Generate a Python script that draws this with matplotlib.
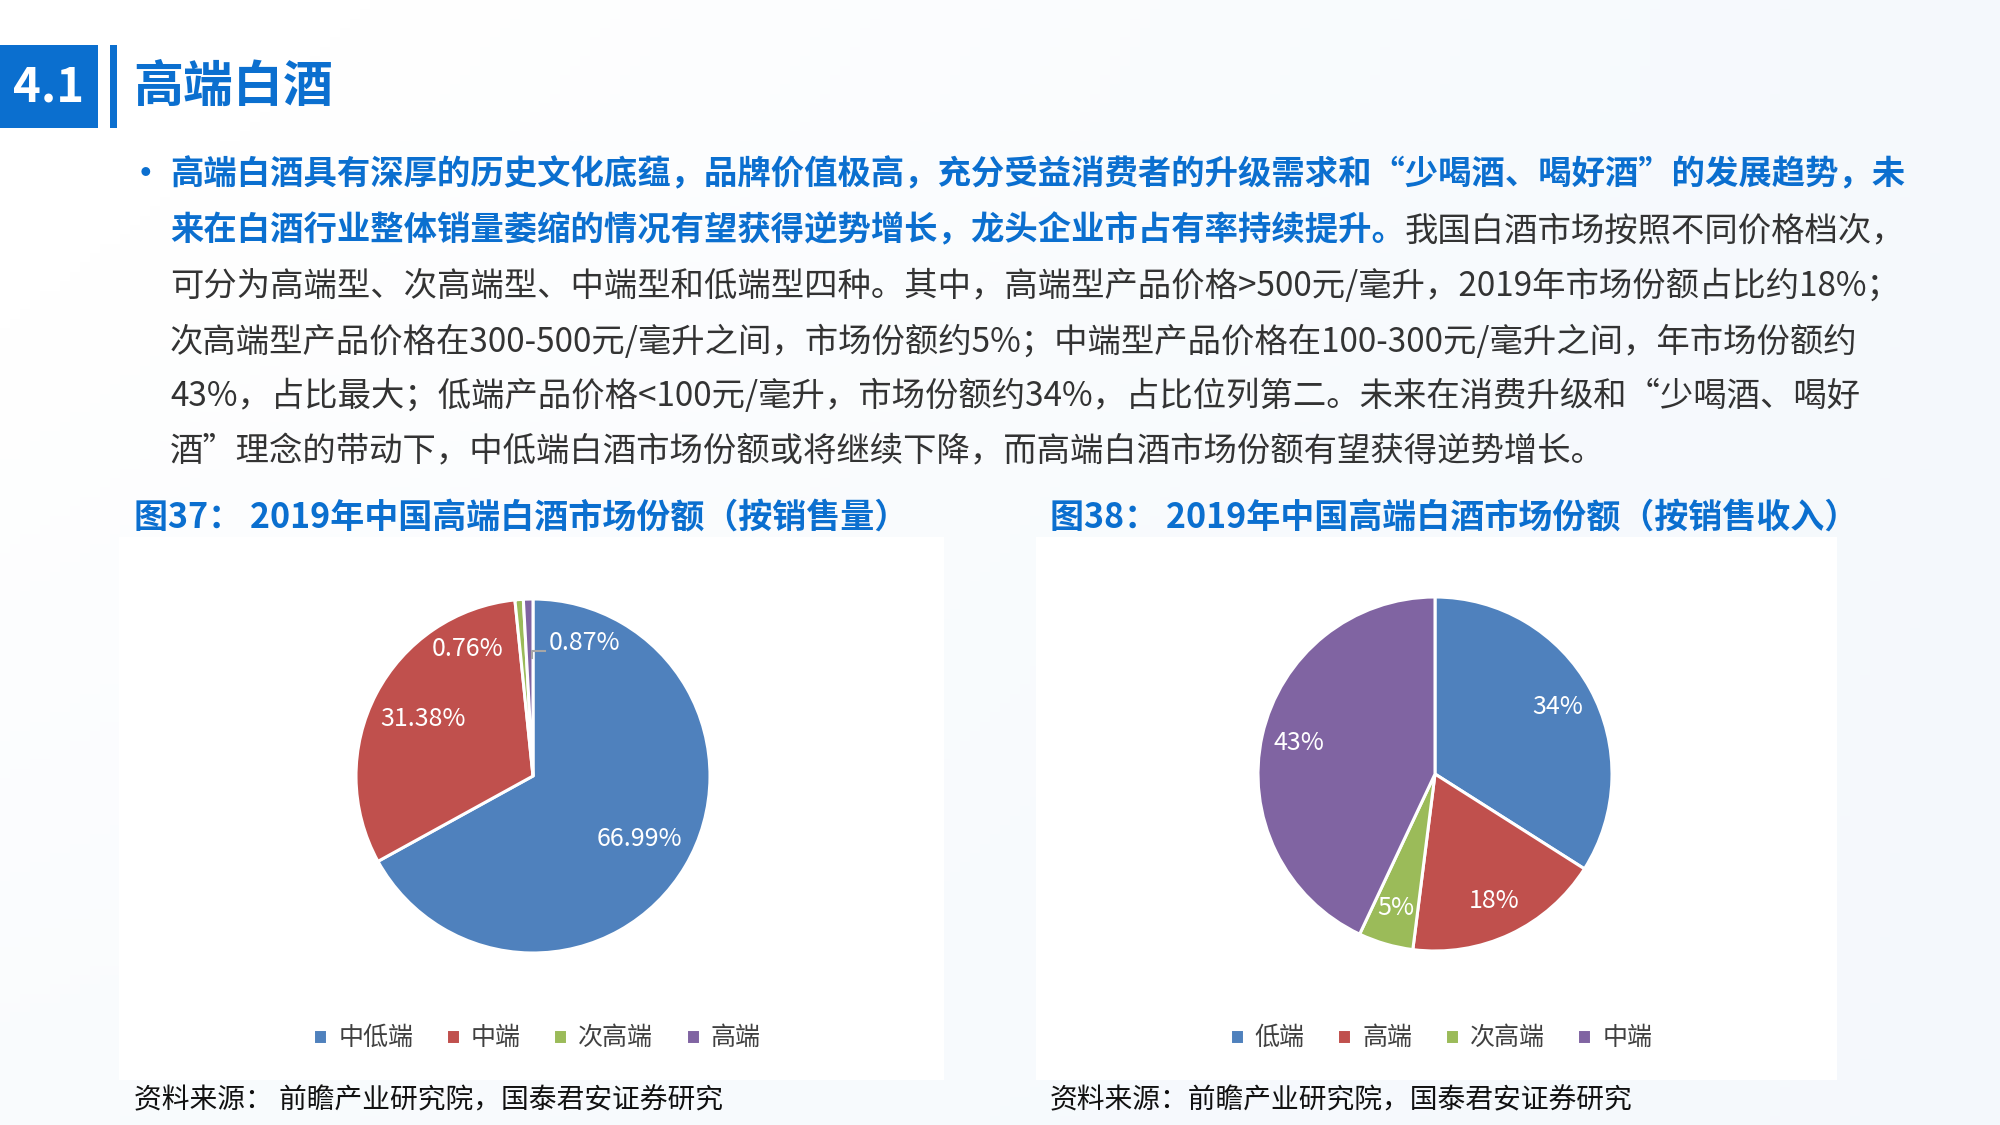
import numpy as np
import matplotlib
matplotlib.use('Agg')
import matplotlib.pyplot as plt
from matplotlib.patches import Rectangle


plt.rcParams['font.family'] = ['Noto Sans CJK SC', 'DejaVu Sans']

# chart data
vol_labels = ['中低端', '中端', '次高端', '高端']
vol_share = [66.99, 31.38, 0.76, 0.87]

rev_labels = ['低端', '高端', '次高端', '中端']
rev_share = [34, 18, 5, 43]

colors = ['#4F81BD', '#C0504D', '#9BBB59', '#8064A2']

section_no = '4.1'
section_title = '高端白酒'
fig37_title = '图37： 2019年中国高端白酒市场份额（按销售量）'
fig38_title = '图38： 2019年中国高端白酒市场份额（按销售收入）'
source_left = '资料来源： 前瞻产业研究院，国泰君安证券研究'
source_right = '资料来源：前瞻产业研究院，国泰君安证券研究'

body_bold_1 = '高端白酒具有深厚的历史文化底蕴，品牌价值极高，充分受益消费者的升级需求和“少喝酒、喝好酒”的发展趋势，未'
body_bold_2 = '来在白酒行业整体销量萎缩的情况有望获得逆势增长，龙头企业市占有率持续提升。'
body_rest_2 = '我国白酒市场按照不同价格档次，'
body_lines = [
    '可分为高端型、次高端型、中端型和低端型四种。其中，高端型产品价格>500元/毫升，2019年市场份额占比约18%；',
    '次高端型产品价格在300-500元/毫升之间，市场份额约5%；中端型产品价格在100-300元/毫升之间，年市场份额约',
    '43%，占比最大；低端产品价格<100元/毫升，市场份额约34%，占比位列第二。未来在消费升级和“少喝酒、喝好',
    '酒”理念的带动下，中低端白酒市场份额或将继续下降，而高端白酒市场份额有望获得逆势增长。',
]

BLUE = '#0B6FCF'
DARK = '#333333'
W, H = 2000, 1125


def fx(px):
	return px / W


def fy(py):
	return 1 - py / H


def main():
	fig = plt.figure(figsize=(20, 11.25), dpi=100)

	# faint slide background
	bg = fig.add_axes([0, 0, 1, 1], zorder=-10)
	xx, yy = np.meshgrid(np.linspace(0, 1, 200), np.linspace(0, 1, 120))
	tint = np.clip(0.55 * xx + 0.35 * yy * (1 - xx) - 0.1, 0, 1)
	base = np.array([1.0, 1.0, 1.0])
	blue = np.array([0.91, 0.945, 0.98])
	img = base[None, None, :] * (1 - tint[..., None]) + blue[None, None, :] * tint[..., None]
	bg.imshow(img, extent=[0, 1, 0, 1], aspect='auto', origin='upper')
	bg.set_xlim(0, 1)
	bg.set_ylim(0, 1)
	bg.axis('off')

	# white chart panels
	for x0, x1 in [(119, 944), (1036, 1837)]:
		bg.add_patch(Rectangle((fx(x0), fy(1080)), fx(x1 - x0), (1080 - 537) / H,
		                       facecolor='white', edgecolor='none', zorder=2))

	# section header
	bg.add_patch(Rectangle((0, fy(128)), fx(98), 83 / H, facecolor=BLUE, edgecolor='none', zorder=3))
	bg.add_patch(Rectangle((fx(110), fy(128)), fx(7), 83 / H, facecolor=BLUE, edgecolor='none', zorder=3))
	fig.text(fx(49), fy(87), section_no, color='white', fontsize=34, fontweight='bold',
	         ha='center', va='center')
	fig.text(fx(133), fy(87), section_title, color=BLUE, fontsize=36, fontweight='bold',
	         ha='left', va='center')

	# body paragraph
	fs = 24
	line_y = [175, 231, 286, 342, 397, 452]
	fig.text(fx(145), fy(line_y[0]), '•', color=BLUE, fontsize=30, ha='center', va='center')
	fig.text(fx(170), fy(line_y[0]), body_bold_1, color=BLUE, fontsize=fs, fontweight='bold',
	         ha='left', va='center')
	t2 = fig.text(fx(170), fy(line_y[1]), body_bold_2, color=BLUE, fontsize=fs, fontweight='bold',
	              ha='left', va='center')
	r = fig.canvas.get_renderer()
	bb = t2.get_window_extent(renderer=r)
	fig.text(bb.x1 / fig.bbox.width, fy(line_y[1]), body_rest_2, color=DARK, fontsize=fs,
	         ha='left', va='center')
	for s, y in zip(body_lines, line_y[2:]):
		fig.text(fx(170), fy(y), s, color=DARK, fontsize=fs, ha='left', va='center')

	# figure titles and sources
	fig.text(fx(134), fy(517), fig37_title, color=BLUE, fontsize=24.5, fontweight='bold',
	         ha='left', va='center')
	fig.text(fx(1050), fy(517), fig38_title, color=BLUE, fontsize=24.5, fontweight='bold',
	         ha='left', va='center')
	fig.text(fx(134), fy(1100), source_left, color='#111111', fontsize=20, ha='left', va='center')
	fig.text(fx(1050), fy(1100), source_right, color='#111111', fontsize=20, ha='left', va='center')

	wedge_kw = dict(edgecolor='white', linewidth=2.2)
	txt_kw = dict(color='white', fontsize=18)
	leg_kw = dict(loc='center', ncol=4, frameon=False, fontsize=18, handlelength=0.55,
	              handleheight=0.55, handletextpad=0.45, columnspacing=1.3, labelcolor='#404040')

	# pie 1 - by volume
	cx, cy, rad = 533, 776, 177
	ax1 = fig.add_axes([fx(cx - rad), fy(cy + rad), fx(2 * rad), 2 * rad / H], zorder=5)
	wedges1, texts1, auto1 = ax1.pie(vol_share, colors=colors, startangle=90, counterclock=False,
	                                 radius=1, autopct='%.2f%%', pctdistance=0.70,
	                                 wedgeprops=wedge_kw, textprops=txt_kw)
	# small slices: labels placed by hand around the top
	auto1[2].set_position((-0.37, 0.72))
	auto1[3].set_position((0.09, 0.75))
	auto1[3].set_ha('left')
	ax1.plot([-0.005, -0.005, 0.07], [0.665, 0.705, 0.705], color='#A6A6A6', lw=1.5, zorder=6)
	ax1.set_xlim(-1, 1)
	ax1.set_ylim(-1, 1)
	ax1.set_aspect('equal')
	ax1.axis('off')
	fig.legend(wedges1, vol_labels, bbox_to_anchor=(fx(537), fy(1038)), **leg_kw)

	# pie 2 - by revenue
	cx, cy, rad = 1435, 774, 177
	ax2 = fig.add_axes([fx(cx - rad), fy(cy + rad), fx(2 * rad), 2 * rad / H], zorder=5)
	wedges2, texts2, auto2 = ax2.pie(rev_share, colors=colors, startangle=90, counterclock=False,
	                                 radius=1, autopct='%d%%', pctdistance=0.79,
	                                 wedgeprops=wedge_kw, textprops=txt_kw)
	ax2.set_xlim(-1, 1)
	ax2.set_ylim(-1, 1)
	ax2.set_aspect('equal')
	ax2.axis('off')
	fig.legend(wedges2, rev_labels, bbox_to_anchor=(fx(1441), fy(1038)), **leg_kw)

	fig.savefig('out.png', dpi=100)


if __name__ == '__main__':
	main()
